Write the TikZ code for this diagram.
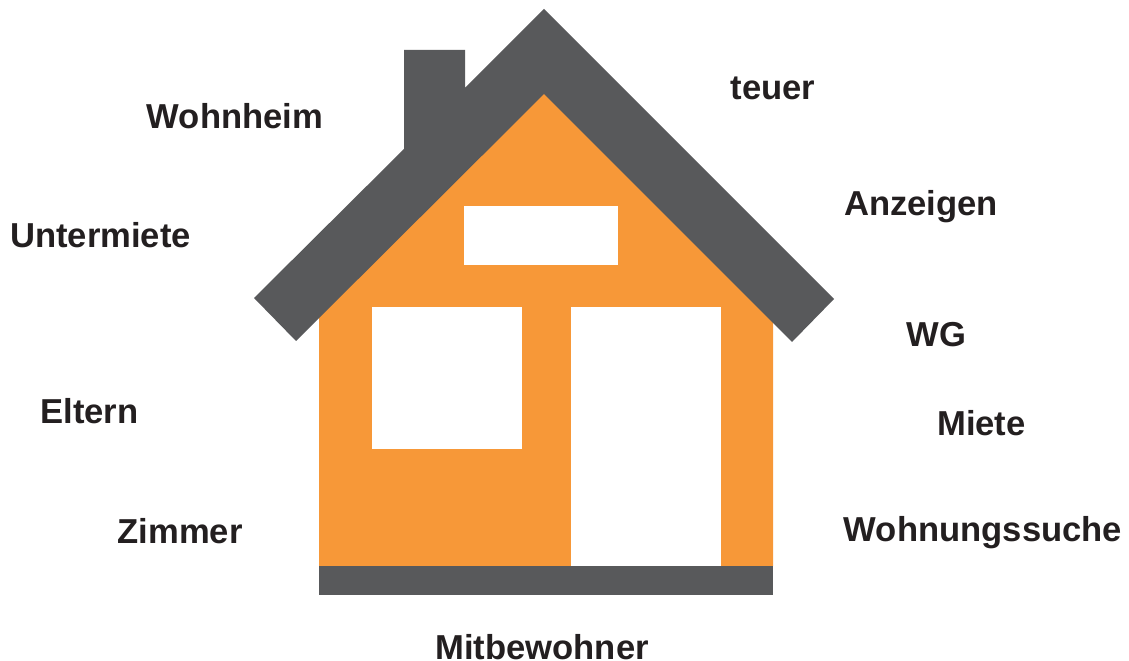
\documentclass[tikz,border=0pt]{standalone}
\usepackage{fontspec}
\setmainfont{Liberation Sans}
\definecolor{roofgrey}{HTML}{58595B}
\definecolor{wallorange}{HTML}{F79838}
\definecolor{wordblack}{HTML}{231F20}
\begin{document}
\begin{tikzpicture}[
    x=0.02cm, y=-0.02cm,
    word/.style={font=\fontsize{19.7pt}{22pt}\selectfont\bfseries, text=wordblack, inner sep=0pt},
    pane/.style={fill=white, draw=none}
]
\useasboundingbox (0,0) rectangle (1129,661);

% House body, its top edge runs under the roof
\fill[wallorange] (319,310) -- (544,85) -- (773,314) -- (773,566) -- (319,566) -- cycle;
\fill[pane] (464,206) rectangle (618,265);
\fill[pane] (372,307) rectangle (522,449);
\fill[pane] (571,307) rectangle (721,566);

% Roof with chimney and base
\fill[roofgrey] (544,9) -- (834,299) -- (792,342) -- (544,94) -- (296,341) -- (254,298) -- (404,149) -- (404,50) -- (465,50) -- (465,88) -- cycle;
\fill[roofgrey] (319,566) rectangle (773,595);

% Words left of the house
\node[word] (wohnheim) at (235,116) {Wohnheim};
\node[word] (untermiete) at (100.5,235) {Untermiete};
\node[word] (eltern) at (89.5,411) {Eltern};
\node[word] (zimmer) at (180,531) {Zimmer};

% Words right of the house
\node[word] (teuer) at (773,88) {teuer};
\node[word] (anzeigen) at (921,207) {Anzeigen};
\node[word] (wg) at (936.5,335) {WG};
\node[word] (miete) at (981.5,423) {Miete};
\node[word] (suche) at (983,533) {Wohnungssuche};

% Word below
\node[word] (mitbewohner) at (542,647) {Mitbewohner};
\end{tikzpicture}
\end{document}
